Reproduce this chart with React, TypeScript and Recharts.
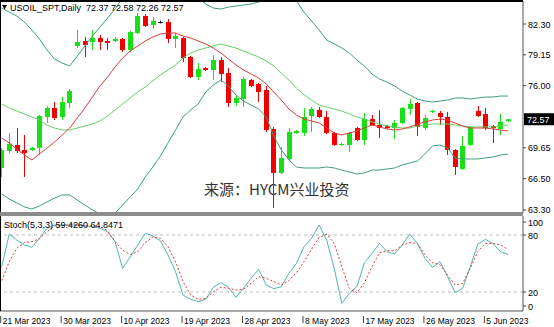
import React from 'react';
import { ComposedChart, Bar, Line, XAxis, YAxis, ReferenceLine } from 'recharts';

// date labels shown every 8 bars
const TICK_LABELS = ['21 Mar 2023', '30 Mar 2023', '10 Apr 2023', '19 Apr 2023', '28 Apr 2023', '8 May 2023', '17 May 2023', '26 May 2023', '5 Jun 2023'];
const PRICE_TICKS = [82.3, 79.15, 76.0, 72.57, 69.65, 66.5, 63.3];
const STOCH_TICKS = [100, 80, 20, 0];
const LAST_CLOSE = 72.57;

const OPEN = [67.6, 69.33, 69.94, 69.43, 69.43, 69.64, 72.8, 73.72, 72.8, 74.23, 80.05, 80.56, 80.46, 80.87, 80.56, 80.56, 80.77, 79.64, 81.38, 83.12, 82.2, 82.5, 82.5, 80.77, 80.87, 78.93, 76.89, 77.8, 77.6, 78.62, 77.29, 74.23, 74.64, 76.58, 76.17, 75.56, 71.57, 67.08, 68.51, 71.17, 71.17, 72.9, 73.52, 72.8, 71.17, 69.94, 69.94, 71.67, 70.45, 72.6, 71.98, 71.88, 71.67, 72.19, 73.62, 74.23, 71.67, 73.33, 73.21, 72.8, 69.43, 67.49, 69.94, 73.42, 73.11, 71.88, 71.57, 72.37];
const HIGH = [69.63, 71.16, 71.67, 70.96, 69.74, 73.0, 73.93, 74.33, 74.84, 75.66, 81.69, 80.97, 81.69, 81.18, 80.87, 80.97, 80.87, 81.59, 83.42, 83.32, 83.01, 82.65, 82.81, 81.38, 80.97, 79.03, 78.31, 77.91, 79.13, 78.93, 77.8, 75.05, 76.89, 76.68, 76.27, 75.96, 71.78, 69.74, 71.67, 71.47, 73.72, 73.82, 73.82, 73.41, 71.27, 70.14, 71.27, 71.78, 73.21, 73.0, 73.52, 71.98, 72.49, 73.82, 74.64, 74.33, 73.01, 73.52, 73.42, 73.31, 69.53, 70.86, 71.88, 73.93, 73.72, 71.98, 73.11, 72.58];
const LOW = [66.67, 69.12, 69.12, 66.67, 69.33, 68.92, 72.19, 72.49, 72.49, 73.72, 79.85, 78.93, 79.64, 79.64, 79.64, 80.46, 79.44, 79.44, 81.28, 82.0, 81.79, 82.35, 80.36, 79.85, 78.42, 76.78, 76.58, 77.5, 76.58, 76.37, 73.82, 73.93, 73.82, 75.86, 74.33, 71.27, 63.51, 66.98, 68.41, 71.06, 70.86, 71.27, 72.7, 71.06, 69.84, 69.84, 69.23, 70.35, 69.94, 71.88, 70.65, 71.57, 70.55, 72.08, 73.01, 70.86, 71.47, 73.21, 71.98, 68.92, 66.88, 67.39, 69.84, 72.8, 71.47, 70.14, 70.96, 72.26];
const CLOSE = [69.43, 70.05, 69.33, 69.12, 69.64, 72.9, 73.72, 72.7, 74.33, 75.45, 80.46, 80.15, 80.87, 80.46, 80.36, 80.77, 79.64, 81.48, 83.12, 82.1, 82.61, 82.5, 80.77, 81.08, 78.83, 76.89, 77.7, 77.6, 78.62, 77.19, 74.23, 74.74, 76.68, 75.97, 75.35, 71.47, 67.08, 68.61, 71.27, 71.37, 72.8, 73.62, 72.8, 71.17, 69.94, 70.04, 71.17, 70.45, 72.6, 71.98, 71.67, 71.67, 72.19, 73.72, 74.13, 71.78, 72.7, 73.41, 72.8, 69.43, 67.69, 69.84, 71.78, 72.9, 71.67, 71.67, 72.29, 72.57];

// red moving average and bollinger bands
const MA = [70.65, 70.14, 69.53, 68.92, 68.41, 69.02, 69.63, 70.24, 70.96, 71.67, 72.7, 73.72, 74.84, 75.96, 76.88, 77.91, 78.83, 79.54, 80.05, 80.56, 80.97, 81.28, 81.38, 81.38, 81.07, 80.87, 80.56, 80.26, 79.85, 79.34, 78.72, 78.11, 77.6, 77.19, 76.78, 76.17, 75.35, 74.53, 73.62, 73.0, 72.59, 72.39, 72.19, 71.67, 71.16, 70.96, 71.16, 71.37, 71.67, 71.98, 71.78, 71.57, 71.47, 71.57, 71.78, 72.08, 72.29, 72.49, 72.59, 72.49, 72.19, 71.88, 71.67, 71.67, 71.67, 71.57, 71.47, 71.37];
const BB_MID = [74.13, 73.72, 73.41, 73.11, 72.8, 72.49, 71.98, 71.67, 71.47, 71.47, 71.67, 71.88, 72.08, 72.39, 72.9, 73.51, 74.13, 74.74, 75.35, 75.86, 76.48, 77.09, 77.6, 78.11, 78.83, 79.34, 79.64, 79.85, 80.05, 80.26, 80.05, 79.85, 79.54, 79.23, 78.93, 78.52, 78.01, 77.29, 76.58, 75.76, 75.05, 74.53, 74.02, 73.82, 73.62, 73.41, 73.11, 72.8, 72.59, 72.29, 72.08, 71.88, 71.78, 71.67, 71.67, 71.88, 71.98, 72.08, 72.08, 72.08, 71.98, 71.88, 71.78, 71.78, 71.78, 71.78, 71.88, 71.98];
const BB_UP = [83.93, 83.52, 83.12, 82.5, 81.69, 80.77, 79.64, 78.72, 78.31, 78.01, 79.03, 80.05, 81.07, 81.99, 82.91, 83.83, 84.95, 85.8, 86.6, 87.2, 87.5, 87.4, 87.0, 86.3, 85.7, 85.2, 84.95, 84.34, 83.93, 83.83, 84.03, 84.14, 84.24, 84.34, 84.55, 84.75, 85.3, 85.6, 85.3, 84.65, 83.52, 82.6, 81.69, 80.66, 80.26, 79.85, 79.34, 78.62, 78.01, 77.19, 76.68, 76.37, 75.96, 75.45, 75.05, 74.64, 74.43, 74.33, 74.43, 74.53, 74.74, 74.74, 74.64, 74.74, 74.84, 74.84, 74.94, 74.94];
const BB_LOW = [64.93, 64.42, 64.01, 63.61, 63.4, 63.71, 64.12, 64.52, 64.83, 64.83, 64.32, 63.81, 63.3, 62.89, 62.48, 62.99, 63.81, 64.63, 65.44, 66.67, 67.69, 68.81, 70.14, 71.47, 72.8, 73.51, 74.13, 75.35, 76.07, 76.58, 75.96, 75.05, 74.43, 74.02, 73.62, 72.8, 70.86, 69.43, 68.41, 67.69, 67.59, 67.59, 67.59, 67.69, 67.59, 67.38, 67.18, 66.98, 67.08, 67.38, 67.38, 67.49, 67.59, 67.9, 68.1, 68.3, 69.02, 69.84, 69.94, 69.63, 68.61, 68.51, 68.51, 68.51, 68.61, 68.71, 68.92, 69.02];

// Stoch(5,3,3)
const STOCH_K = [46.7, 81, 74.7, 69.5, 67, 76.5, 87, 90.5, 90.5, 90.5, 90.5, 89.5, 88.8, 87, 83.5, 73, 45, 57, 69.5, 81.8, 79, 74, 59, 41.4, 16.8, 12.3, 9.8, 12.3, 24.9, 29.8, 24.9, 14.4, 23.9, 34.4, 43.9, 27.4, 23.5, 25.6, 39.6, 50.2, 67.7, 76.5, 90.5, 74.7, 45, 8.1, 18.6, 25.6, 50.9, 60.7, 71.2, 62.5, 60, 69.5, 81, 71.2, 55.4, 46, 51.9, 36.1, 19.3, 23.9, 46.7, 70.2, 75.4, 71.2, 62.5, 59.43];
const STOCH_D = [32, 52, 66, 72, 73, 76, 83.5, 89.5, 90, 90.5, 90.5, 90, 89.5, 89, 84.5, 73, 64, 59.5, 62.5, 72, 78, 76.5, 67.7, 52, 30.9, 16.8, 12.3, 13.3, 20.3, 24.9, 23.9, 22.1, 22.8, 29.1, 36.1, 34.4, 31, 27.4, 32, 40.4, 51.9, 64.9, 77.5, 80.7, 71.2, 46.7, 23.9, 19.3, 29.8, 46.7, 61.4, 63.5, 63.5, 69.5, 71.9, 71.2, 59, 50.9, 48.8, 37.9, 27.4, 29.1, 45, 62.5, 71.2, 71.2, 69.5, 64.85];

const rows = OPEN.map((o, i) => ({
  i,
  open: o,
  high: HIGH[i],
  low: LOW[i],
  close: CLOSE[i],
  range: [LOW[i], HIGH[i]],
  ma: MA[i],
  mid: BB_MID[i],
  up: BB_UP[i],
  lo: BB_LOW[i],
  k: STOCH_K[i],
  d: STOCH_D[i],
}));

const TICK_INDEX = TICK_LABELS.map((_, n) => n * 8);
const X_DOMAIN = [-0.225, 68.98];
const FONT = '"Liberation Sans", Arial, sans-serif';
const BULL = '#17e017';
const BEAR = '#f20000';

const Candle = (props: any) => {
  const { x, y, width, height, payload } = props;
  const { open, high, low, close } = payload;
  const top = Math.min(y, y + height);
  const h = Math.abs(height);
  const span = high - low || 1;
  const py = (p: number) => top + ((high - p) / span) * h;
  const cx = Math.round(x + width / 2) + 0.5;
  const color = close > open ? BULL : close < open ? BEAR : '#222';
  const bTop = py(Math.max(open, close));
  const bBot = py(Math.min(open, close));
  return (
    <g>
      <line x1={cx} x2={cx} y1={top} y2={top + h} stroke={color} strokeWidth={1} />
      <rect x={cx - 2.5} y={bTop} width={5} height={Math.max(bBot - bTop, 1)} fill={color} />
    </g>
  );
};

const PriceTick = (props: any) => {
  const { x, y, payload } = props;
  const v = payload.value;
  if (v === LAST_CLOSE) {
    return (
      <g>
        <rect x={x + 1} y={y - 6} width={31} height={12} fill="#000" />
        <text x={x + 4} y={y + 3.5} fill="#fff" fontSize={9} fontFamily={FONT}>{v.toFixed(2)}</text>
      </g>
    );
  }
  return (
    <g>
      <line x1={x} x2={x + 3} y1={y} y2={y} stroke="#444" />
      <text x={x + 5} y={y + 3.5} fill="#000" fontSize={9} fontFamily={FONT}>{v.toFixed(2)}</text>
    </g>
  );
};

const StochTick = (props: any) => {
  const { x, y, payload } = props;
  const v = payload.value;
  const dy = v === 100 ? 6 : v === 0 ? -5 : 0;
  return (
    <g>
      <line x1={x} x2={x + 3} y1={y + dy} y2={y + dy} stroke="#444" />
      <text x={x + 5} y={y + dy + 3.5} fill="#000" fontSize={9} fontFamily={FONT}>{v}</text>
    </g>
  );
};

const DateTick = (props: any) => {
  const { x, y, payload } = props;
  const label = TICK_LABELS[TICK_INDEX.indexOf(payload.value)];
  return (
    <g>
      <line x1={x - 1} x2={x - 1} y1={y + 5} y2={y + 12} stroke="#444" />
      <text x={x + 1} y={y + 12.5} fill="#000" fontSize={8.5} fontFamily={FONT}>{label}</text>
    </g>
  );
};

export default function App() {
  return (
    <div style={{ position: 'absolute', left: 0, top: 0, width: 554, height: 327, background: '#fff', overflow: 'hidden' }}>
      <svg width={554} height={327} style={{ position: 'absolute', left: 0, top: 0 }}>
        <text x={204} y={195} fontSize={15} fill="#333" fontFamily='"Noto Sans CJK SC", sans-serif'>来源：HYCM兴业投资</text>
      </svg>

      <div style={{ position: 'absolute', left: 0, top: 0 }}>
        <ComposedChart width={554} height={216} data={rows} margin={{ top: 1, right: 0, bottom: 3, left: 0 }}>
          <XAxis dataKey="i" type="number" domain={X_DOMAIN} allowDataOverflow hide />
          <YAxis
            orientation="right"
            width={31}
            domain={[62.99, 84.65]}
            allowDataOverflow
            ticks={PRICE_TICKS}
            interval={0}
            tick={<PriceTick />}
            tickLine={false}
            tickSize={0}
            tickMargin={0}
            axisLine={{ stroke: '#555' }}
          />
          <Bar dataKey="range" barSize={5} shape={(p: any) => <Candle {...p} />} isAnimationActive={false} />
          <Line type="linear" dataKey="up" stroke="#3f9f7a" strokeWidth={1} dot={false} activeDot={false} isAnimationActive={false} />
          <Line type="linear" dataKey="lo" stroke="#3f9f7a" strokeWidth={1} dot={false} activeDot={false} isAnimationActive={false} />
          <Line type="linear" dataKey="mid" stroke="#62d462" strokeWidth={1} dot={false} activeDot={false} isAnimationActive={false} />
          <Line type="linear" dataKey="ma" stroke="#e03c3c" strokeWidth={1} dot={false} activeDot={false} isAnimationActive={false} />
        </ComposedChart>
      </div>

      <div style={{ position: 'absolute', left: 0, top: 213 }}>
        <ComposedChart width={554} height={114} data={rows} margin={{ top: 3, right: 0, bottom: 0, left: 0 }}>
          <XAxis
            dataKey="i"
            type="number"
            domain={X_DOMAIN}
            allowDataOverflow
            ticks={TICK_INDEX}
            interval={0}
            height={16}
            tick={<DateTick />}
            tickLine={false}
            tickSize={0}
            tickMargin={0}
            axisLine={{ stroke: '#555' }}
          />
          <YAxis
            orientation="right"
            width={31}
            domain={[0, 100]}
            ticks={STOCH_TICKS}
            interval={0}
            tick={<StochTick />}
            tickLine={false}
            tickSize={0}
            tickMargin={0}
            axisLine={{ stroke: '#555' }}
          />
          <ReferenceLine y={80} stroke="#bdbdbd" strokeDasharray="3 3" />
          <ReferenceLine y={20} stroke="#bdbdbd" strokeDasharray="3 3" />
          <Line type="linear" dataKey="k" stroke="#52b4b4" strokeWidth={1} dot={false} activeDot={false} isAnimationActive={false} />
          <Line type="linear" dataKey="d" stroke="#dd3a3a" strokeWidth={1} strokeDasharray="2 2" dot={false} activeDot={false} isAnimationActive={false} />
        </ComposedChart>
      </div>

      <svg width={554} height={327} style={{ position: 'absolute', left: 0, top: 0, pointerEvents: 'none' }}>
        <rect x={0} y={0} width={523} height={2} fill="#000" />
        <rect x={0} y={0} width={1} height={311} fill="#000" />
        <rect x={0} y={212} width={523} height={4} fill="#8c8c8c" />
        <polygon points="2,5 7,5 4.5,9.5" fill="#000" />
        <text x={10} y={11} fontSize={9} fill="#000" fontFamily={FONT} style={{ whiteSpace: 'pre' }}>USOIL_SPT,Daily  72.37 72.58 72.26 72.57</text>
        <text x={4} y={228} fontSize={9} fill="#000" fontFamily={FONT}>Stoch(5,3,3) 59.4260 64.8471</text>
      </svg>
    </div>
  );
}
